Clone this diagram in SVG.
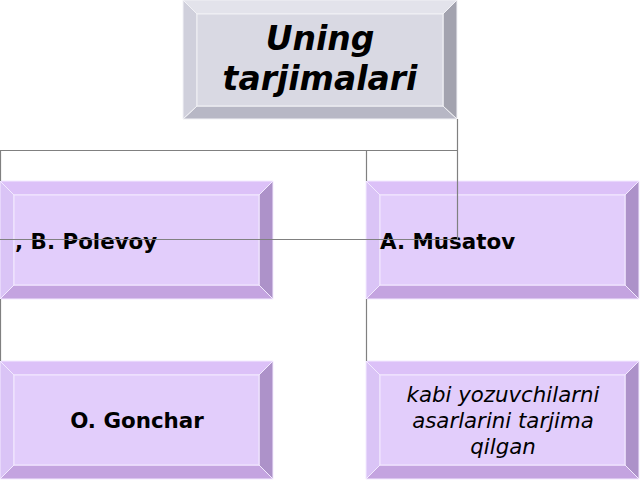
<svg xmlns="http://www.w3.org/2000/svg" xmlns:xlink="http://www.w3.org/1999/xlink" width="640" height="480" viewBox="0 0 640 480">
<style>
.pt{fill:#dcc1f8}.pl{fill:#dac4f6}.pr{fill:#ad92c9}.pb{fill:#c4a4e0}.pf{fill:#e2cdfb}
.gt{fill:#e3e3eb}.gl{fill:#d0d0dc}.gr{fill:#a3a3af}.gb{fill:#b7b7c5}.gf{fill:#d9d9e3}
.edge{stroke:#f3eaff;stroke-width:1;stroke-linejoin:round}
.gedge{stroke:#f2f2f6;stroke-width:1}
.conn{stroke:#808080;stroke-width:1.2;fill:none}
.bold{font-family:"DejaVu Sans",sans-serif;font-weight:bold;font-size:21.4px;fill:#000}
.ital{font-family:"DejaVu Sans",sans-serif;font-style:italic;font-size:21.3px;fill:#000}
.title{font-family:"DejaVu Sans",sans-serif;font-weight:bold;font-style:italic;font-size:33px;fill:#000}
</style>
<defs>
<g id="pbox">
<polygon class="pt edge" points="0,0 273,0 259,14 14,14"/>
<polygon class="pb edge" points="0,118 273,118 259,104 14,104"/>
<polygon class="pl edge" points="0,0 14,14 14,104 0,118"/>
<polygon class="pr edge" points="273,0 259,14 259,104 273,118"/>
<rect class="pf edge" x="14" y="14" width="245" height="90"/>
</g>
</defs>
<rect width="640" height="480" fill="#ffffff"/>
<g id="node-top">
<polygon class="gt gedge" points="183,0 457,0 443,14 197,14"/>
<polygon class="gb gedge" points="183,119 457,119 443,106 197,106"/>
<polygon class="gl gedge" points="183,0 197,14 197,106 183,119"/>
<polygon class="gr gedge" points="457,0 443,14 443,106 457,119"/>
<rect class="gf gedge" x="197" y="14" width="246" height="92"/>
<text class="title" x="320" y="50" text-anchor="middle">Uning</text>
<text class="title" x="320" y="90" text-anchor="middle">tarjimalari</text>
</g>
<g id="node-polevoy">
<use xlink:href="#pbox" x="0" y="181"/>
<text class="bold" x="15" y="249">, B. Polevoy</text>
</g>
<g id="node-musatov">
<use xlink:href="#pbox" x="366" y="181"/>
<text class="bold" x="380" y="249">A. Musatov</text>
</g>
<g id="node-gonchar">
<use xlink:href="#pbox" x="0" y="361"/>
<text class="bold" x="137" y="428" text-anchor="middle">O. Gonchar</text>
</g>
<g id="node-kabi">
<use xlink:href="#pbox" x="366" y="361"/>
<text class="ital" x="503" y="402" text-anchor="middle">kabi yozuvchilarni</text>
<text class="ital" x="503" y="428" text-anchor="middle">asarlarini tarjima</text>
<text class="ital" x="503" y="454" text-anchor="middle">qilgan</text>
</g>
<g id="connectors">
<path class="conn" d="M457.5,119 V239.5 M0,150.5 H457.5 M0.5,150 V181 M366.5,150 V181 M0.5,299 V361 M366.5,299 V361 M0,239.5 H457.5"/>
</g>
</svg>
